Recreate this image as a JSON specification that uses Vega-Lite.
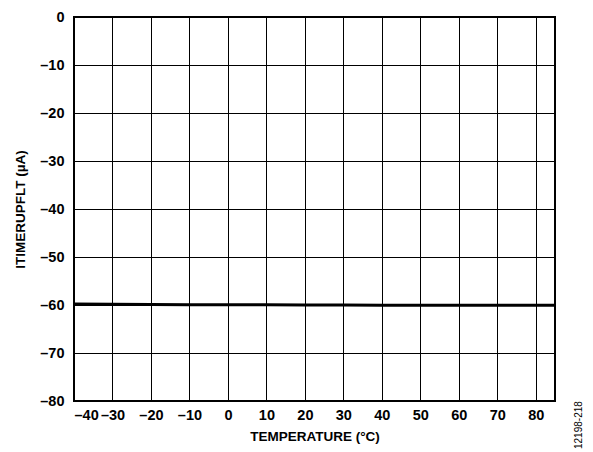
{
  "$schema": "https://vega.github.io/schema/vega-lite/v6.json",
  "width": 481,
  "height": 384,
  "autosize": "none",
  "padding": {"left": 74, "top": 17, "right": 38, "bottom": 51},
  "title": {"text": "12198-218", "orient": "right", "anchor": "end", "angle": -90, "fontSize": 10, "fontWeight": "normal", "font": "Liberation Sans", "color": "#000", "offset": 14, "dx": -6, "align": "left", "baseline": "middle"},
  "config": {
    "font": "Liberation Sans",
    "view": {"stroke": "#000", "strokeWidth": 2},
    "axis": {"labelFont": "Liberation Sans", "titleFont": "Liberation Sans", "labelFontWeight": "bold", "titleFontWeight": "bold", "labelColor": "#000", "titleColor": "#000"}
  },
  "data": {"values": [
    {"t": -40, "i": -59.8},
    {"t": -30, "i": -59.85},
    {"t": -20, "i": -59.9},
    {"t": -10, "i": -59.93},
    {"t": 0, "i": -59.95},
    {"t": 10, "i": -59.97},
    {"t": 20, "i": -60.0},
    {"t": 30, "i": -60.02},
    {"t": 40, "i": -60.05},
    {"t": 50, "i": -60.05},
    {"t": 60, "i": -60.05},
    {"t": 70, "i": -60.05},
    {"t": 85, "i": -60.05}
  ]},
  "mark": {"type": "line", "color": "#000", "strokeWidth": 3, "clip": true},
  "encoding": {
    "x": {
      "field": "t", "type": "quantitative",
      "scale": {"domain": [-40, 85], "nice": false, "zero": false},
      "axis": {
        "values": [-40, -30, -20, -10, 0, 10, 20, 30, 40, 50, 60, 70, 80],
        "title": "TEMPERATURE (°C)", "titleFontSize": 13.5, "titlePadding": 8,
        "labelFontSize": 14.5, "labelPadding": 7, "ticks": false, "domain": false,
        "grid": true, "gridColor": "#000", "gridOpacity": 1, "gridWidth": 1,
        "labelExpr": "replace(datum.label, '−', '–')"
      }
    },
    "y": {
      "field": "i", "type": "quantitative",
      "scale": {"domain": [-80, 0], "nice": false, "zero": false},
      "axis": {
        "values": [0, -10, -20, -30, -40, -50, -60, -70, -80],
        "title": "ITIMERUPFLT (µA)", "titleFontSize": 13.5, "titlePadding": 12,
        "labelFontSize": 14.5, "labelPadding": 10, "ticks": false, "domain": false,
        "grid": true, "gridColor": "#000", "gridOpacity": 1, "gridWidth": 1,
        "labelExpr": "replace(datum.label, '−', '–')"
      }
    }
  }
}
